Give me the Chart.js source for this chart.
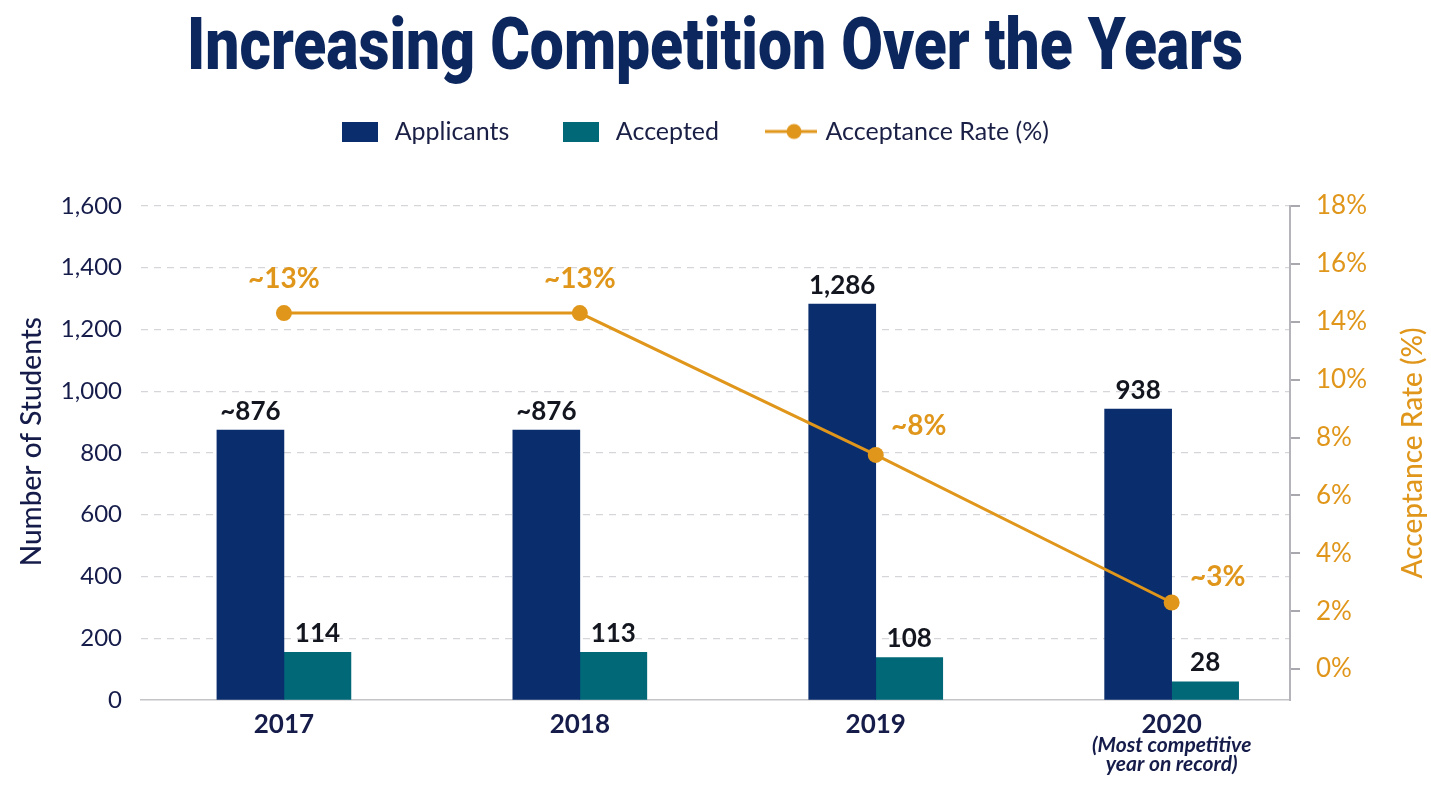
<!DOCTYPE html>
<html>
<head>
<meta charset="utf-8">
<title>Increasing Competition Over the Years</title>
<script src="https://cdn.jsdelivr.net/npm/chart.js@4.4.1/dist/chart.umd.min.js"></script>
<style>
  html, body { margin: 0; padding: 0; background: #ffffff; }
  #wrap { width: 1431px; height: 787px; }
</style>
</head>
<body>
<div id="wrap"><canvas id="chart-area"></canvas></div>
<script>
// values
var years = ['2017', '2018', '2019', '2020'];
var applicants = [874, 874, 1282, 942];
var accepted = [154, 154, 137, 59];
var acceptanceRate = [14.3, 14.3, 7.4, 2.3];

// texts printed on the chart
var applicantLabels = ['~876', '~876', '1,286', '938'];
var acceptedLabels = ['114', '113', '108', '28'];
var rateLabels = ['~13%', '~13%', '~8%', '~3%'];
var rateTicks = [0, 2, 4, 6, 8, 10, 14, 16, 18];
var yearNote = ['(Most competitive', 'year on record)'];

var NAVY = '#0a2d6d';
var TEAL = '#016878';
var ORANGE = '#e0961a';
var INK = '#151c4a';

// right axis is drawn with evenly spaced ticks (12% is skipped in the source)
function rateToAxis(v) {
    for (var i = 0; i < rateTicks.length - 1; i++) {
        if (v <= rateTicks[i + 1]) {
            return i + (v - rateTicks[i]) / (rateTicks[i + 1] - rateTicks[i]);
        }
    }
    return rateTicks.length - 1;
}

function boxIcon(color) {
    var c = document.createElement('canvas');
    c.width = 36; c.height = 20;
    var g = c.getContext('2d');
    g.fillStyle = color;
    g.fillRect(0, 0, 36, 20);
    return c;
}

function lineIcon(color) {
    var c = document.createElement('canvas');
    c.width = 52; c.height = 18;
    var g = c.getContext('2d');
    g.strokeStyle = color;
    g.lineWidth = 3;
    g.beginPath(); g.moveTo(0, 9); g.lineTo(52, 9); g.stroke();
    g.fillStyle = color;
    g.beginPath(); g.arc(29, 9, 7.5, 0, Math.PI * 2); g.fill();
    return c;
}

var legendIcons = [boxIcon(NAVY), boxIcon(TEAL), lineIcon(ORANGE)];

function rotatedText(ctx, text, x, y, color, font) {
    ctx.save();
    ctx.translate(x, y);
    ctx.rotate(-Math.PI / 2);
    ctx.fillStyle = color;
    ctx.font = font;
    ctx.textAlign = 'center';
    ctx.textBaseline = 'middle';
    ctx.fillText(text, 0, 0);
    ctx.restore();
}

var annotations = {
    id: 'annotations',
    afterLayout: function(chart) {
        // legend sits a little left of centre and well above the plot
        var lg = chart.legend;
        lg.left -= 22; lg.right -= 22;
        lg.top -= 52; lg.bottom -= 52;
    },
    afterDraw: function(chart) {
        var ctx = chart.ctx;
        var area = chart.chartArea;

        // title
        ctx.save();
        ctx.font = '900 72px Roboto';
        var w = ctx.measureText('Increasing Competition Over the Years').width;
        ctx.translate(715, 69);
        ctx.scale(1056 / w, 1);
        ctx.fillStyle = '#0c275e';
        ctx.textAlign = 'center';
        ctx.textBaseline = 'alphabetic';
        ctx.fillText('Increasing Competition Over the Years', 0, 0);
        ctx.restore();

        // bar value labels
        ctx.save();
        ctx.textAlign = 'center';
        ctx.textBaseline = 'middle';
        ctx.fillStyle = '#14161f';
        ctx.font = '700 26px Lato';
        [applicantLabels, acceptedLabels].forEach(function(texts, d) {
            chart.getDatasetMeta(d).data.forEach(function(bar, i) {
                ctx.fillText(texts[i], bar.x, bar.y - 19);
            });
        });

        // rate labels
        var offsets = [[0, -34], [0, -34], [43, -29], [46, -26]];
        ctx.fillStyle = ORANGE;
        ctx.font = '700 28px Lato';
        chart.getDatasetMeta(2).data.forEach(function(pt, i) {
            ctx.fillText(rateLabels[i], pt.x + offsets[i][0], pt.y + offsets[i][1]);
        });
        ctx.restore();

        // note under the last year
        var xs = chart.scales.x;
        ctx.save();
        ctx.fillStyle = INK;
        ctx.font = 'italic 700 21px Lato';
        ctx.textAlign = 'center';
        ctx.textBaseline = 'middle';
        ctx.fillText(yearNote[0], xs.getPixelForValue(3), 745);
        ctx.fillText(yearNote[1], xs.getPixelForValue(3), 764);
        ctx.restore();

        // axis titles, both reading bottom to top
        rotatedText(ctx, 'Number of Students', 32, area.top + (area.bottom - area.top) * 0.477, INK, '500 28px Lato');
        rotatedText(ctx, 'Acceptance Rate (%)', 1413, (area.top + area.bottom) / 2, ORANGE, '500 28px Lato');
    }
};

var config = {
    type: 'bar',
    data: {
        datasets: [{
            label: 'Applicants',
            data: applicants.map(function(v, i) { return {x: i, y: v}; }),
            backgroundColor: NAVY,
            barThickness: 67,
            yAxisID: 'y',
            order: 2
        }, {
            label: 'Accepted',
            data: accepted.map(function(v, i) { return {x: i, y: v}; }),
            backgroundColor: TEAL,
            barThickness: 67,
            yAxisID: 'y',
            order: 2
        }, {
            type: 'line',
            label: 'Acceptance Rate (%)',
            data: acceptanceRate.map(function(v, i) { return {x: i, y: rateToAxis(v)}; }),
            borderColor: ORANGE,
            backgroundColor: ORANGE,
            borderWidth: 3,
            pointRadius: 8,
            pointBorderWidth: 0,
            pointHoverRadius: 8,
            yAxisID: 'y1',
            order: 1
        }]
    },
    options: {
        responsive: true,
        maintainAspectRatio: false,
        animation: false,
        layout: { padding: { top: 121, left: 0, right: 0, bottom: 0 } },
        plugins: {
            tooltip: { enabled: false },
            legend: {
                position: 'top',
                labels: {
                    usePointStyle: true,
                    pointStyleWidth: 44,
                    padding: 50,
                    color: '#1a1f45',
                    font: { family: 'Lato', size: 25 },
                    generateLabels: function(chart) {
                        return chart.data.datasets.map(function(ds, i) {
                            return {
                                text: ds.label,
                                pointStyle: legendIcons[i],
                                fillStyle: 'transparent',
                                strokeStyle: 'transparent',
                                lineWidth: 0,
                                fontColor: '#1a1f45',
                                datasetIndex: i,
                                hidden: false
                            };
                        });
                    }
                }
            }
        },
        scales: {
            x: {
                type: 'linear',
                offset: false,
                min: -0.483,
                max: 3.4,
                afterBuildTicks: function(scale) {
                    scale.ticks = years.map(function(y, i) { return {value: i}; });
                },
                afterFit: function(scale) { scale.height = 87; },
                ticks: {
                    padding: 2,
                    color: INK,
                    font: { family: 'Lato', size: 26, weight: '700', lineHeight: 1.1 },
                    callback: function(value) { return years[value]; }
                },
                grid: { display: false, offset: false },
                border: { display: true, color: '#c4c4c8', width: 1.5 }
            },
            y: {
                position: 'left',
                min: 0,
                max: 1600,
                afterBuildTicks: function(scale) {
                    var t = [];
                    for (var v = 0; v <= 1600; v += 200) t.push({value: v});
                    scale.ticks = t;
                },
                afterFit: function(scale) { scale.width = 141; },
                ticks: {
                    padding: 19,
                    color: INK,
                    font: { family: 'Lato', size: 24 },
                    callback: function(value) { return value.toLocaleString('en-US'); }
                },
                grid: {
                    drawTicks: false,
                    color: function(c) { return c.tick && c.tick.value === 0 ? 'rgba(0,0,0,0)' : '#d6d6da'; },
                    lineWidth: 1.2
                },
                border: { display: false, dash: [7, 6] }
            },
            y1: {
                position: 'right',
                min: -0.534,
                max: 8,
                afterBuildTicks: function(scale) {
                    scale.ticks = rateTicks.map(function(v, i) { return {value: i}; });
                },
                afterFit: function(scale) { scale.width = 141; },
                ticks: {
                    padding: 16,
                    color: ORANGE,
                    font: { family: 'Lato', size: 26 },
                    callback: function(value, index) { return rateTicks[index] + '%'; }
                },
                grid: {
                    drawOnChartArea: false,
                    drawTicks: true,
                    tickLength: 10,
                    color: '#a8a8ae',
                    lineWidth: 2
                },
                border: { display: true, color: '#b4b4ba', width: 2 }
            }
        }
    },
    plugins: [annotations]
};

var ctx = document.getElementById('chart-area').getContext('2d');
var myChart = new Chart(ctx, config);
</script>
</body>
</html>
